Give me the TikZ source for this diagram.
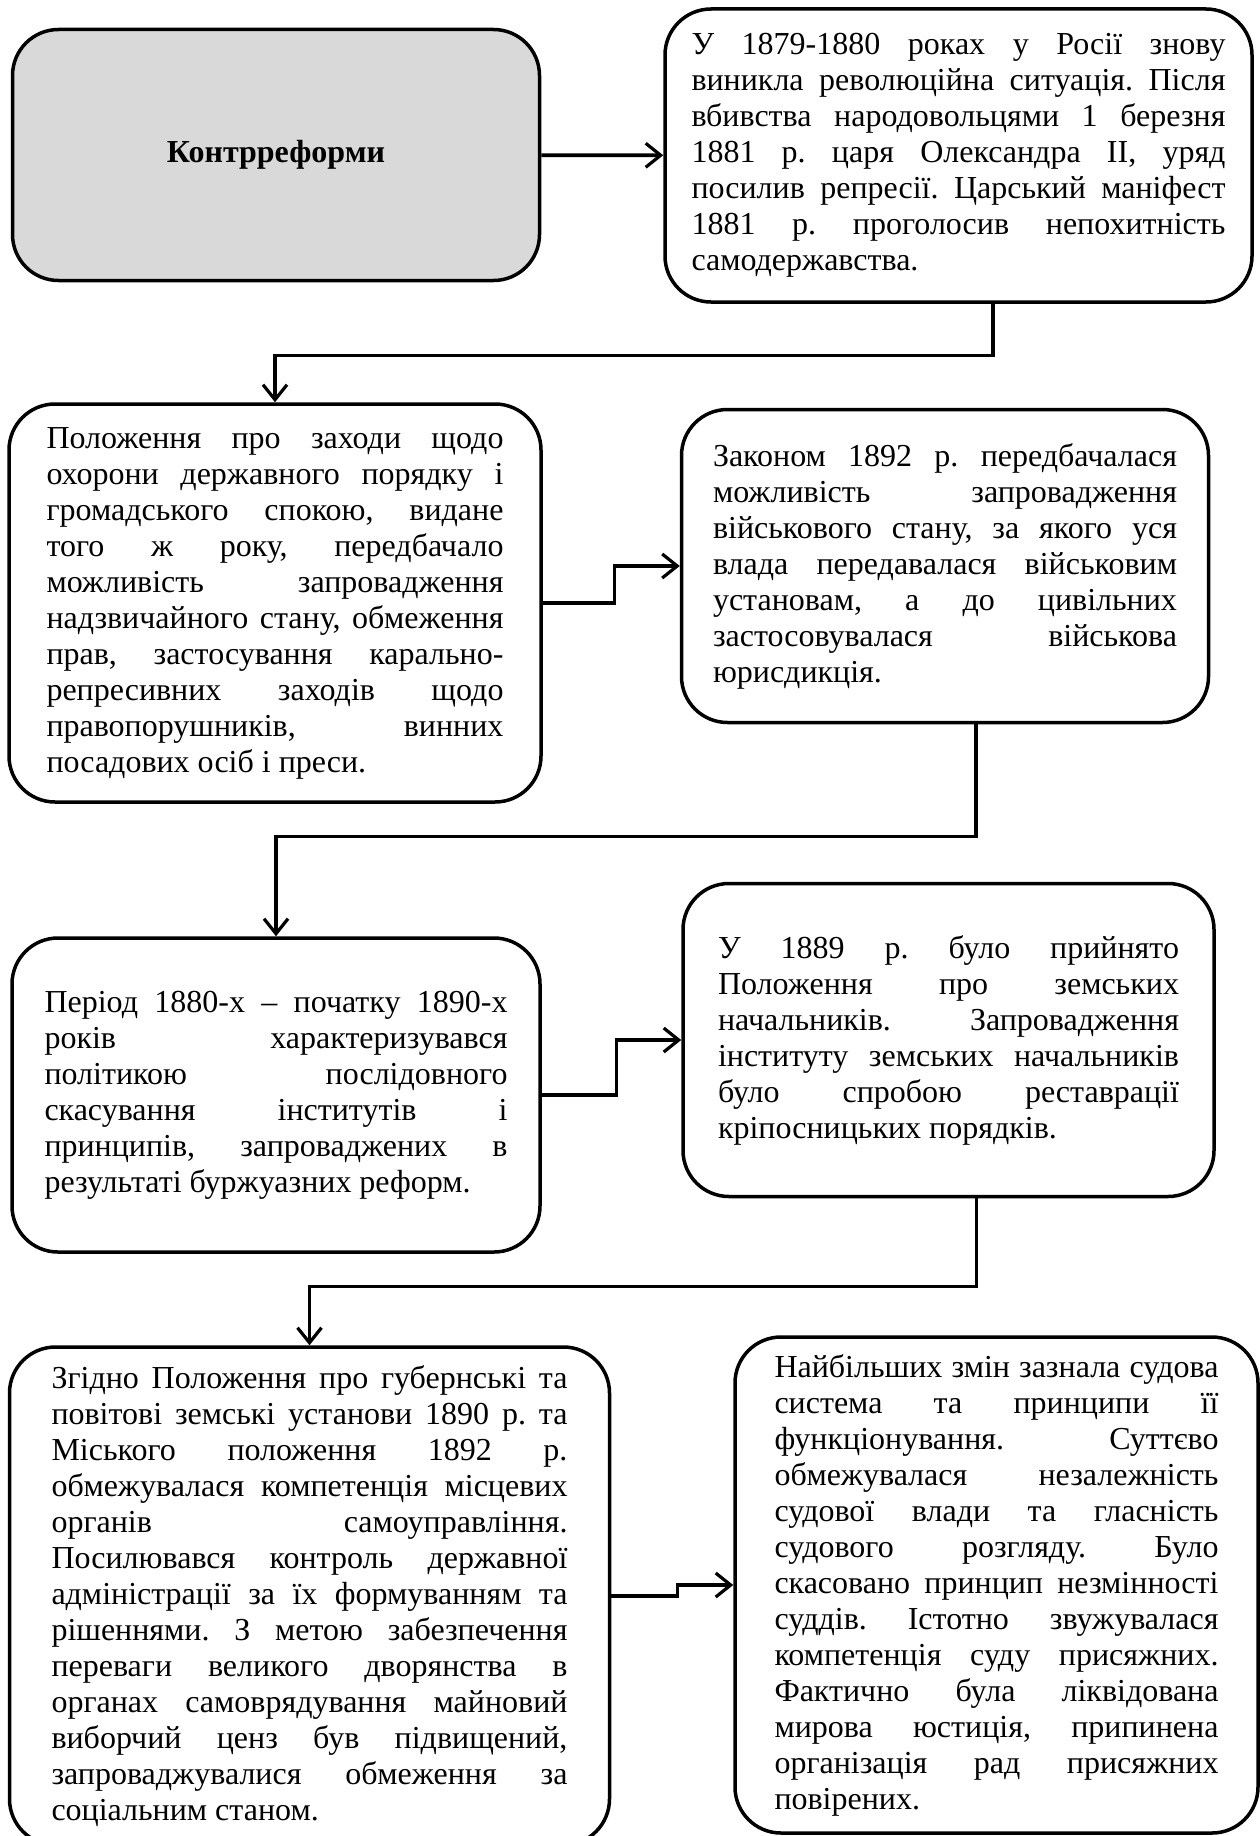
\documentclass[tikz,border=0pt]{standalone}
\usepackage{fontspec}
\setmainfont{Liberation Serif}
\usetikzlibrary{arrows.meta}
\definecolor{BoxGray}{HTML}{D9D9D9}
\setlength{\parindent}{0pt}
\frenchspacing
\newcommand{\jl}[1]{\makebox[\hsize][s]{#1}\\}

\begin{document}
\begin{tikzpicture}[x=1pt,y=-1pt,
  blk/.style={draw=black,line width=3.5pt,rounded corners=46pt,inner sep=0pt,align=justify,font={\fontsize{32}{36}\selectfont}},
  lnk/.style={line width=3.2pt,-{Straight Barb[length=15pt,width=24pt,line width=3.2pt]}}]
\useasboundingbox (0,0) rectangle (1260,1836);
\clip (0,0) rectangle (1260,1836);
\node[blk,fill=BoxGray,minimum width=527pt,minimum height=251pt,align=center,font={\fontsize{32}{36}\selectfont\bfseries}] (kontr) at (276,155) {Контрреформи};
\node[blk,minimum width=587pt,minimum height=293pt,text width=534pt] (sit) at (958.5,155.5) {\jl{У 1879-1880 роках у Росії знову}\jl{виникла революційна ситуація. Після}\jl{вбивства народовольцями 1 березня}\jl{1881 р. царя Олександра ІІ, уряд}\jl{посилив репресії. Царський маніфест}\jl{1881 р. проголосив непохитність}самодержавства.};
\node[blk,minimum width=532pt,minimum height=398pt,text width=457pt] (polozh) at (275,603) {\jl{Положення про заходи щодо}\jl{охорони державного порядку і}\jl{громадського спокою, видане}\jl{того ж року, передбачало}\jl{можливість запровадження}\jl{надзвичайного стану, обмеження}\jl{прав, застосування карально-}\jl{репресивних заходів щодо}\jl{правопорушників, винних}посадових осіб і преси.};
\node[blk,minimum width=527pt,minimum height=313pt,text width=464pt] (zakon) at (945,566) {\jl{Законом 1892 р. передбачалася}\jl{можливість запровадження}\jl{військового стану, за якого уся}\jl{влада передавалася військовим}\jl{установам, а до цивільних}\jl{застосовувалася військова}юрисдикція.};
\node[blk,minimum width=528pt,minimum height=314pt,text width=463pt] (period) at (276,1095) {\jl{Період 1880-х – початку 1890-х}\jl{років характеризувався}\jl{політикою послідовного}\jl{скасування інститутів і}\jl{принципів, запроваджених в}результаті буржуазних реформ.};
\node[blk,minimum width=531pt,minimum height=313pt,text width=461pt] (zemsk) at (948.5,1040) {\jl{У 1889 р. було прийнято}\jl{Положення про земських}\jl{начальників. Запровадження}\jl{інституту земських начальників}\jl{було спробою реставрації}кріпосницьких порядків.};
\node[blk,minimum width=600pt,minimum height=498pt,text width=516pt] (gubern) at (309.5,1596) {\jl{Згідно Положення про губернські та}\jl{повітові земські установи 1890 р. та}\jl{Міського положення 1892 р.}\jl{обмежувалася компетенція місцевих}\jl{органів самоуправління.}\jl{Посилювався контроль державної}\jl{адміністрації за їх формуванням та}\jl{рішеннями. З метою забезпечення}\jl{переваги великого дворянства в}\jl{органах самоврядування майновий}\jl{виборчий ценз був підвищений,}\jl{запроваджувалися обмеження за}соціальним станом.};
\node[blk,minimum width=523pt,minimum height=496pt,text width=444pt] (sud) at (996.5,1585) {\jl{Найбільших змін зазнала судова}\jl{система та принципи її}\jl{функціонування. Суттєво}\jl{обмежувалася незалежність}\jl{судової влади та гласність}\jl{судового розгляду. Було}\jl{скасовано принцип незмінності}\jl{суддів. Істотно звужувалася}\jl{компетенція суду присяжних.}\jl{Фактично була ліквідована}\jl{мирова юстиція, припинена}\jl{організація рад присяжних}повірених.};
\draw[lnk,line width=3.8pt] (kontr) -- (sit);
\draw[lnk] ([xshift=34.5pt]sit.south) -- ++(0,52) -| (polozh.north);
\draw[lnk] (polozh.east) -- ++(72,0) |- (zakon.west);
\draw[lnk] ([xshift=31pt]zakon.south) -- ++(0,112) -| (period.north);
\draw[lnk] (period.east) -- ++(75,0) |- (zemsk.west);
\draw[lnk] ([xshift=28pt]zemsk.south) -- ++(0,88) -| (gubern.north);
\draw[lnk] (gubern.east) -- ++(66,0) |- (sud.west);
\end{tikzpicture}
\end{document}
